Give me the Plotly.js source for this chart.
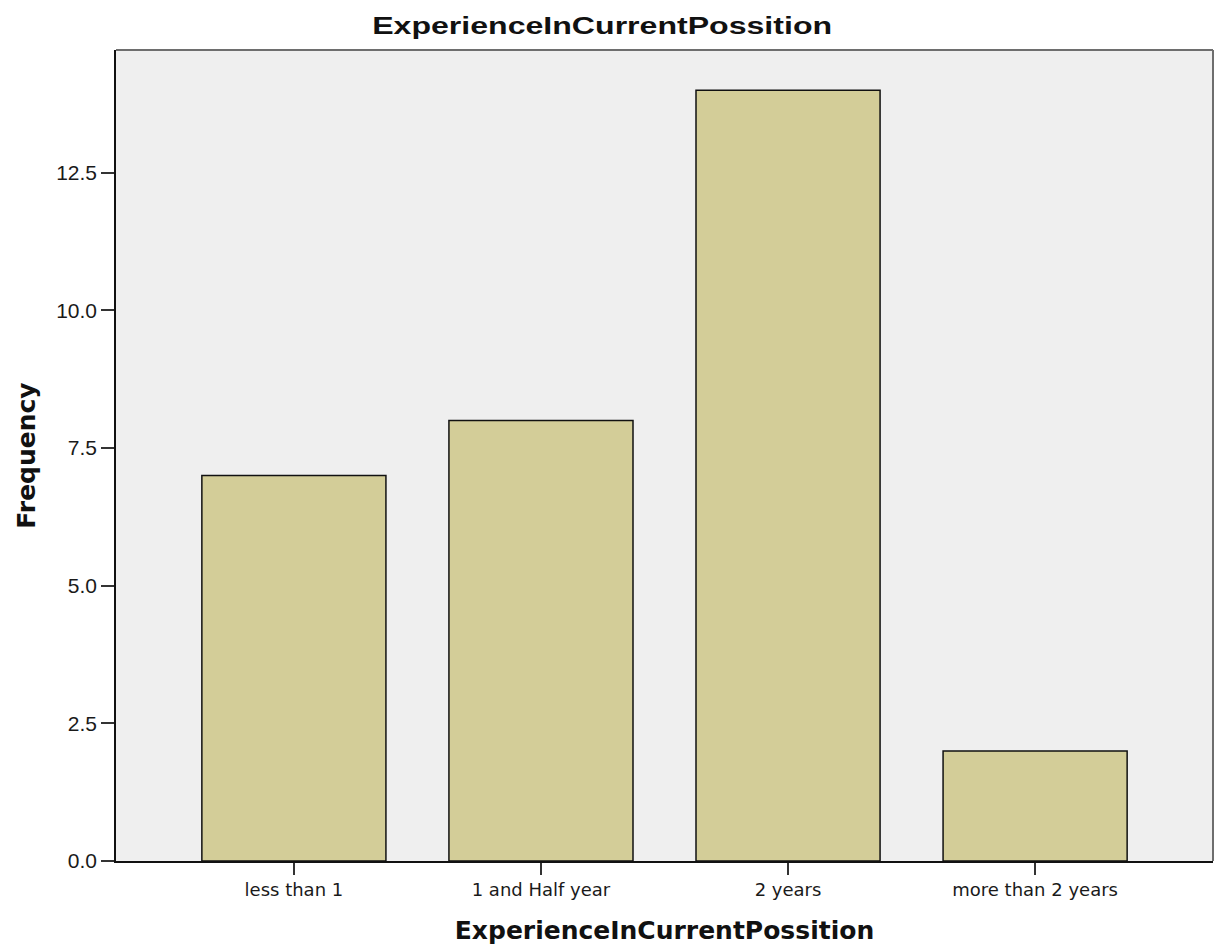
<!DOCTYPE html>
<html>
<head>
<meta charset="utf-8">
<script src="https://cdn.plot.ly/plotly-3.0.1.min.js"></script>
<style>
  html, body { margin: 0; padding: 0; background: #ffffff; }
  #chart { width: 1214px; height: 950px; }
</style>
</head>
<body>
<div id="chart"></div>
<script>
// ---- data ----
const categories = ["less than 1", "1 and Half year", "2 years", "more than 2 years"];
const frequencies = [7, 8, 14, 2];
const yTickValues = [0, 2.5, 5, 7.5, 10, 12.5];
const chartTitle = "ExperienceInCurrentPossition";
const xAxisTitle = "ExperienceInCurrentPossition";
const yAxisTitle = "Frequency";

const trace = {
  type: "bar",
  x: categories,
  y: frequencies,
  marker: {
    color: "#d3cd98",
    line: { color: "#111111", width: 1.5 }
  },
  hoverinfo: "x+y"
};

const layout = {
  width: 1214,
  height: 950,
  margin: { l: 116, r: 1, t: 50, b: 89 },
  paper_bgcolor: "#ffffff",
  plot_bgcolor: "#efefef",
  showlegend: false,
  bargap: 0.255,
  title: {
    text: chartTitle,
    font: { family: "Liberation Sans, Arial, sans-serif", size: 23, color: "#111111", weight: "bold" },
    xref: "container", x: 0.496, xanchor: "center",
    yref: "container", y: 0.973, yanchor: "middle"
  },
  xaxis: {
    type: "category",
    range: [-0.72, 3.72],
    showgrid: false,
    zeroline: false,
    showline: true,
    linecolor: "#111111",
    linewidth: 1.5,
    ticks: "outside",
    ticklen: 12,
    tickwidth: 1.5,
    tickcolor: "#333333",
    tickfont: { family: "DejaVu Sans, sans-serif", size: 18, color: "#1a1a1a" },
    title: {
      text: xAxisTitle,
      font: { family: "DejaVu Sans, sans-serif", size: 25, color: "#111111", weight: "bold" },
      standoff: 22
    },
    fixedrange: true
  },
  yaxis: {
    range: [0, 14.73],
    tickvals: yTickValues,
    tickformat: ".1f",
    showgrid: false,
    zeroline: false,
    showline: true,
    linecolor: "#111111",
    linewidth: 1.5,
    ticks: "outside",
    ticklen: 13,
    tickwidth: 1.5,
    tickcolor: "#333333",
    tickfont: { family: "Liberation Sans, Arial, sans-serif", size: 21, color: "#1a1a1a" },
    title: {
      text: yAxisTitle,
      font: { family: "DejaVu Sans, sans-serif", size: 25, color: "#111111", weight: "bold" },
      standoff: 13
    },
    fixedrange: true
  },
  shapes: [
    { type: "line", xref: "paper", yref: "paper", x0: 0, x1: 1, y0: 1, y1: 1,
      line: { color: "#6e6e6e", width: 2 } },
    { type: "line", xref: "paper", yref: "paper", x0: 1, x1: 1, y0: 0, y1: 1,
      line: { color: "#6e6e6e", width: 2 } }
  ]
};

Plotly.newPlot("chart", [trace], layout, { displayModeBar: false }).then(function () {
  // The reference title is drawn with a horizontally wide face; widen it to match.
  const t = document.querySelector(".gtitle");
  if (t) {
    const b = t.getBBox();
    const target = 460;
    const s = target / b.width;
    const cx = b.x + b.width / 2;
    t.setAttribute("transform", "translate(" + cx + ",0) scale(" + s + ",1) translate(" + (-cx) + ",0)");
  }
});
</script>
</body>
</html>
